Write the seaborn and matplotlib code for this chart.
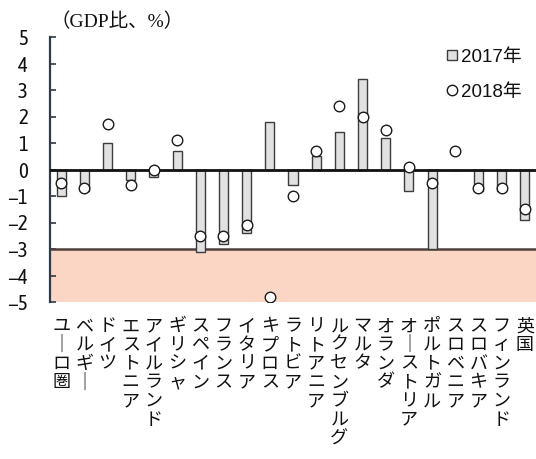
import matplotlib
matplotlib.use("Agg")
import matplotlib.pyplot as plt
from matplotlib.lines import Line2D
import seaborn as sns
import pandas as pd

# 国・地域別の財政収支(GDP比、%)
countries = ["ユーロ圏", "ベルギー", "ドイツ", "エストニア", "アイルランド", "ギリシャ",
             "スペイン", "フランス", "イタリア", "キプロス", "ラトビア", "リトアニア",
             "ルクセンブルグ", "マルタ", "オランダ", "オーストリア", "ポルトガル",
             "スロベニア", "スロバキア", "フィンランド", "英国"]
balance_2017 = [-1.0, -0.8, 1.0, -0.4, -0.3, 0.7, -3.1, -2.8, -2.4, 1.8, -0.6, 0.5,
                1.4, 3.4, 1.2, -0.8, -3.0, 0.0, -0.8, -0.8, -1.9]
balance_2018 = [-0.5, -0.7, 1.7, -0.6, 0.0, 1.1, -2.5, -2.5, -2.1, -4.8, -1.0, 0.7,
                2.4, 2.0, 1.5, 0.1, -0.5, 0.7, -0.7, -0.7, -1.5]
y_ticks = [5, 4, 3, 2, 1, 0, -1, -2, -3, -4, -5]
legend_labels = ["2017年", "2018年"]
unit_label = "（GDP比、%）"

df = pd.DataFrame({"country": countries, "y2017": balance_2017, "y2018": balance_2018})

sns.set_theme(style="white")
narrow = ["Liberation Sans Narrow", "Asap Condensed", "Archivo Narrow",
          "Noto Sans CJK JP", "DejaVu Sans"]
plt.rcParams["font.family"] = narrow

fig = plt.figure(figsize=(5.36, 4.59), dpi=100)
ax = fig.add_axes([50 / 536, 1 - 302 / 459, 486 / 536, 265 / 459])

# 基準(-3%)を下回る領域
ax.axhspan(-5, -3, color="#fbd6c5", lw=0, zorder=0)
ax.axhline(-3, color="#4f403c", lw=1.8, zorder=1)

sns.barplot(data=df, x="country", y="y2017", order=countries, color="#e1e1e1",
            saturation=1, width=0.39, edgecolor="#3c3c3c", linewidth=1.0,
            ax=ax, zorder=2)
ax.axhline(0, color="#111111", lw=2.0, zorder=3)
sns.stripplot(data=df, x="country", y="y2018", order=countries, jitter=False,
              color="white", edgecolor="#1a1a1a", linewidth=1.0, size=7.6,
              ax=ax, zorder=4)

ax.set_xlim(-0.48, len(countries) - 0.52)
ax.set_ylim(-5, 5)
ax.set_yticks(y_ticks)
ax.set_xlabel("")
ax.set_ylabel("")

for side in ["top", "right", "bottom"]:
    ax.spines[side].set_visible(False)
ax.spines["left"].set_color("#2e3a48")
ax.spines["left"].set_linewidth(1.6)

ax.tick_params(axis="y", direction="in", length=4, width=1.2, color="#2e3a48",
               pad=16, left=True)
for lab in ax.get_yticklabels():
    lab.set_fontsize(15)
    lab.set_family(narrow)
    lab.set_color("#111111")
ax.tick_params(axis="x", length=0, pad=11)


def vertical(label):
    return "\n".join("｜" if ch == "ー" else ch for ch in label)


ax.set_xticks(range(len(countries)))
ax.set_xticklabels([vertical(c) for c in countries], fontsize=13,
                   family=["Noto Sans CJK JP"], linespacing=1.05, va="top",
                   color="#111111")

fig.text(51 / 536, 1 - 22 / 459, unit_label, fontsize=14,
         family=["Liberation Serif", "Noto Sans CJK JP"], va="center", ha="left",
         color="#111111")

handles = [
    Line2D([], [], marker="s", ls="none", markersize=7.5, markerfacecolor="#e1e1e1",
           markeredgecolor="#3c3c3c", markeredgewidth=1.0),
    Line2D([], [], marker="o", ls="none", markersize=7.5, markerfacecolor="white",
           markeredgecolor="#1a1a1a", markeredgewidth=1.0),
]
leg = ax.legend(handles, legend_labels, loc="upper left", bbox_to_anchor=(0.8, 0.985),
                frameon=False, handlelength=0.6, handletextpad=0.2,
                labelspacing=0.95, borderaxespad=0,
                prop={"family": ["Liberation Sans", "Noto Sans CJK JP"], "size": 13.5})
for t in leg.get_texts():
    t.set_color("#111111")

fig.savefig("out.png", dpi=100)
